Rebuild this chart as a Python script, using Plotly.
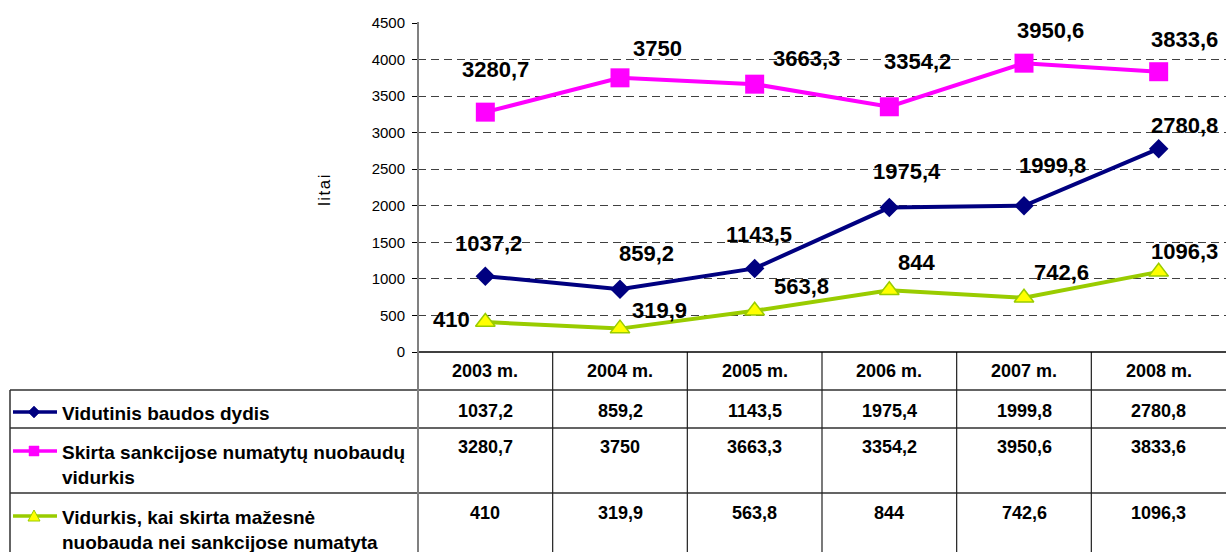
import plotly.graph_objects as go

# ---- data -------------------------------------------------------------
years = ["2003 m.", "2004 m.", "2005 m.", "2006 m.", "2007 m.", "2008 m."]
series_names = [
    "Vidutinis baudos dydis",
    "Skirta sankcijose numatytų nuobaudų<br>vidurkis",
    "Vidurkis, kai skirta mažesnė<br>nuobauda nei sankcijose numatyta",
]
vidutinis = [1037.2, 859.2, 1143.5, 1975.4, 1999.8, 2780.8]
sankciju_vidurkis = [3280.7, 3750, 3663.3, 3354.2, 3950.6, 3833.6]
mazesne = [410, 319.9, 563.8, 844, 742.6, 1096.3]
y_ticks = [0, 500, 1000, 1500, 2000, 2500, 3000, 3500, 4000, 4500]

# ---- layout constants (pixels) ---------------------------------------
W, H = 1226, 552
AX_LEFT = 418
Y_TOP, Y_ZERO = 23, 352
TABLE_LEFT = 10
ROW_LINES = [390, 428, 493]
ROW_TEXT_Y = [411, 447, 513]
LEGEND_TEXT_Y = [413, 452, 517]
LINE_GAP = 25

# label offsets (dx, dy in px) for each series' data labels
off_vid = [(3, -33), (26, -36), (4, -34), (18, -36), (28, -40), (26, -23)]
off_sank = [(10, -43), (37, -29), (52, -26), (28, -45), (26, -33), (26, -32)]
off_maz = [(-34, -3), (39, -18), (47, -24), (27, -28), (37, -25), (26, -20)]

NAVY, MAGENTA, GREEN, YELLOW = "#000080", "#FF00FF", "#99CC00", "#FFFF00"
FONT = "Liberation Sans, Arial, sans-serif"


def px(xp):
    return xp / W


def py(yp):
    return 1 - yp / H


def fmt(v):
    return f"{v:g}".replace(".", ",")


xs = list(range(len(years)))
fig = go.Figure()

styles = [
    (vidutinis, NAVY, dict(symbol="diamond", size=15, color=NAVY), off_vid),
    (sankciju_vidurkis, MAGENTA, dict(symbol="square", size=19, color=MAGENTA), off_sank),
    (mazesne, GREEN, dict(symbol="triangle-up", size=17, color=YELLOW,
                          line=dict(color=GREEN, width=1.5)), off_maz),
]

annotations = []
for (vals, col, mk, offs), name in zip(styles, series_names):
    fig.add_trace(go.Scatter(
        x=xs, y=vals, mode="lines+markers", name=name,
        line=dict(color=col, width=4), marker=mk, showlegend=False,
        cliponaxis=False,
    ))
    for i, v in enumerate(vals):
        dx, dy = offs[i]
        annotations.append(dict(
            x=i, y=v, xref="x", yref="y", text=fmt(v), showarrow=False,
            xanchor="center", yanchor="middle",
            xshift=dx, yshift=-dy,
            font=dict(family=FONT, size=22, color="black", weight="bold"),
        ))

# header row (years) and table values
for i, yr in enumerate(years):
    annotations.append(dict(
        x=i, y=py(371), xref="x", yref="paper", text=yr, showarrow=False,
        xanchor="center", yanchor="middle",
        font=dict(family=FONT, size=18, color="black", weight="bold"),
    ))
for row, vals in enumerate([vidutinis, sankciju_vidurkis, mazesne]):
    for i, v in enumerate(vals):
        annotations.append(dict(
            x=i, y=py(ROW_TEXT_Y[row]), xref="x", yref="paper", text=fmt(v),
            showarrow=False, xanchor="center", yanchor="middle",
            font=dict(family=FONT, size=18, color="black", weight="bold"),
        ))

# legend names in the table's first column
for row, name in enumerate(series_names):
    n_lines = name.count("<br>") + 1
    centre = LEGEND_TEXT_Y[row] + (n_lines - 1) * LINE_GAP / 2
    annotations.append(dict(
        x=px(60), y=py(centre), xref="paper", yref="paper",
        xanchor="left", yanchor="middle",
        text=name, align="left", showarrow=False,
        font=dict(family=FONT, size=19, color="black", weight="bold"),
    ))

# y-axis title
annotations.append(dict(
    x=px(324), y=py(190), xref="paper", yref="paper",
    text='<span style="letter-spacing:1.5px">litai</span>',
    xanchor="center", yanchor="middle",
    textangle=-90, showarrow=False,
    font=dict(family=FONT, size=17, color="black"),
))

shapes = []
LINE = dict(color="#303030", width=1.5)
# horizontal table lines
for yl in ROW_LINES:
    shapes.append(dict(type="line", xref="paper", yref="paper",
                       x0=px(TABLE_LEFT), x1=1, y0=py(yl), y1=py(yl), line=LINE))
shapes.append(dict(type="line", xref="paper", yref="paper",
                   x0=px(TABLE_LEFT), x1=px(TABLE_LEFT), y0=py(ROW_LINES[0]), y1=0, line=LINE))
# column dividers
for i in range(len(years) - 1):
    shapes.append(dict(type="line", xref="x", yref="paper",
                       x0=i + 0.5, x1=i + 0.5, y0=py(Y_ZERO), y1=0,
                       line=dict(color="#202020", width=1.2)))
# category axis line
shapes.append(dict(type="line", xref="paper", yref="paper",
                   x0=px(AX_LEFT), x1=1, y0=py(Y_ZERO), y1=py(Y_ZERO),
                   line=dict(color="black", width=1.5)))
# value axis line continuing through the table
shapes.append(dict(type="line", xref="paper", yref="paper",
                   x0=px(AX_LEFT), x1=px(AX_LEFT), y0=py(Y_TOP - 1), y1=0,
                   line=dict(color="#808080", width=2)))

# legend keys
KEY_X0, KEY_X1, KEY_C = 13, 57, 34
for row, (col, kind) in enumerate([(NAVY, "diamond"), (MAGENTA, "square"), (GREEN, "triangle")]):
    yk = LEGEND_TEXT_Y[row] - 1
    shapes.append(dict(type="line", xref="paper", yref="paper",
                       x0=px(KEY_X0), x1=px(KEY_X1), y0=py(yk), y1=py(yk),
                       line=dict(color=col, width=3.5)))
    if kind == "diamond":
        path = (f"M{px(KEY_C)},{py(yk - 6)} L{px(KEY_C + 6)},{py(yk)} "
                f"L{px(KEY_C)},{py(yk + 6)} L{px(KEY_C - 6)},{py(yk)} Z")
        shapes.append(dict(type="path", xref="paper", yref="paper", path=path,
                           fillcolor=col, line=dict(color=col, width=0.5)))
    elif kind == "square":
        shapes.append(dict(type="rect", xref="paper", yref="paper",
                           x0=px(KEY_C - 5), x1=px(KEY_C + 5),
                           y0=py(yk - 5), y1=py(yk + 5),
                           fillcolor=col, line=dict(color=col, width=0.5)))
    else:
        path = (f"M{px(KEY_C)},{py(yk - 6)} L{px(KEY_C + 6)},{py(yk + 5)} "
                f"L{px(KEY_C - 6)},{py(yk + 5)} Z")
        shapes.append(dict(type="path", xref="paper", yref="paper", path=path,
                           fillcolor=YELLOW, line=dict(color=GREEN, width=1)))

fig.update_layout(
    width=W, height=H,
    margin=dict(l=0, r=0, t=0, b=0, autoexpand=False),
    paper_bgcolor="white", plot_bgcolor="white",
    xaxis=dict(domain=[px(AX_LEFT), 1], range=[-0.5, 5.5], visible=False),
    yaxis=dict(
        domain=[py(Y_ZERO), py(Y_TOP)], range=[0, 4500],
        tickvals=y_ticks, ticks="outside", ticklen=5, tickcolor="black",
        tickwidth=1, ticklabelstandoff=4,
        tickfont=dict(family=FONT, size=15, color="black"),
        showgrid=True, gridcolor="#404040", gridwidth=1, griddash="8px,5px",
        zeroline=False, showline=False, automargin=False,
    ),
    annotations=annotations, shapes=shapes, showlegend=False,
)

fig.write_html("out.html")
